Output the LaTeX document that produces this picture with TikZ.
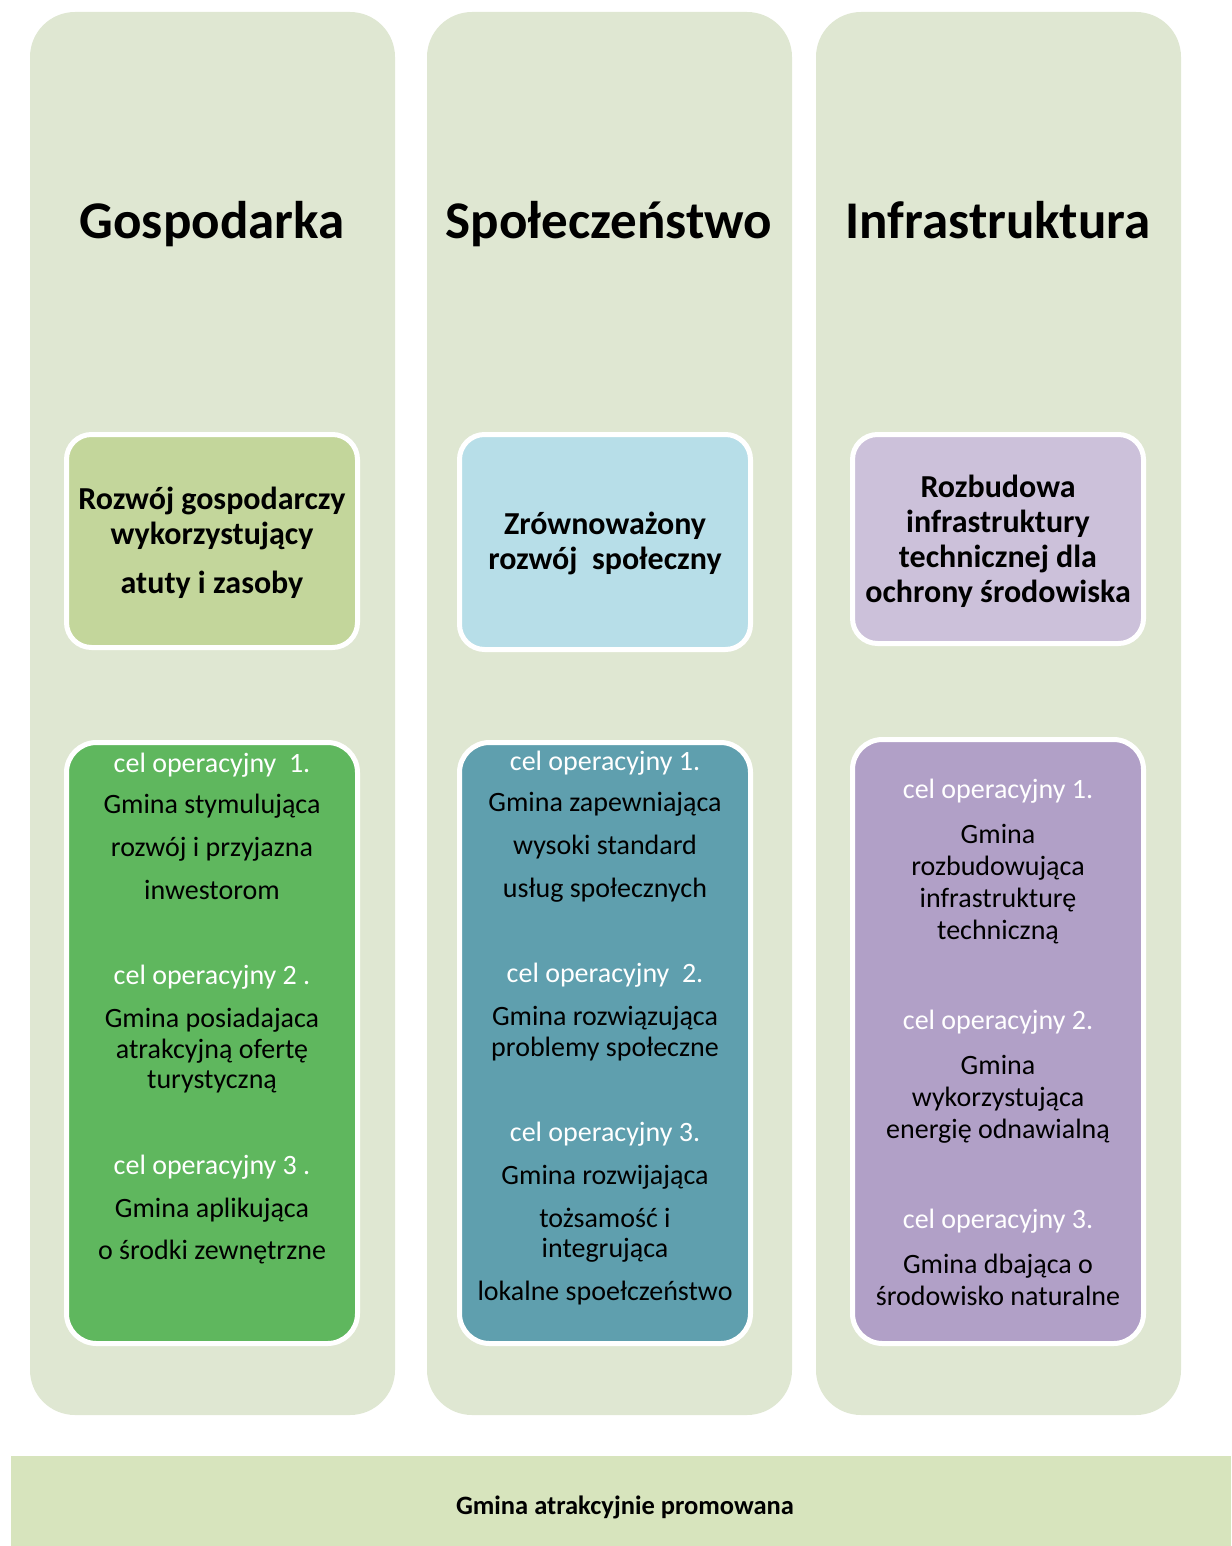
\documentclass[tikz,border=0pt]{standalone}
\usepackage{fontspec}
\setmainfont{Carlito}
\definecolor{colbg}{HTML}{DFE7D2}
\definecolor{gtop}{HTML}{C3D69B}
\definecolor{gbot}{HTML}{5FB75E}
\definecolor{btop}{HTML}{B7DEE8}
\definecolor{bbot}{HTML}{5F9FAE}
\definecolor{ptop}{HTML}{CCC1DA}
\definecolor{pbot}{HTML}{B1A0C7}
\definecolor{banner}{HTML}{D7E4BD}
\begin{document}
\begin{tikzpicture}[x=1pt,y=-1pt,
  colbox/.style={fill=colbg, rounded corners=45pt, minimum width=365pt, minimum height=1403pt, inner sep=0pt},
  box/.style={draw=white, line width=5pt, rounded corners=25pt, minimum width=291pt, inner sep=0pt},
  ln/.style={text height=0.7em, text depth=0.25em, inner sep=0pt, anchor=center},
  ttl/.style={ln, yshift=-14pt, font=\fontsize{53}{60}\selectfont\bfseries},
  hd/.style={ln, yshift=-9pt, font=\fontsize{32}{38}\selectfont\bfseries},
  cel/.style={ln, yshift=-8pt, text=white, font=\fontsize{28}{33}\selectfont},
  txt/.style={ln, yshift=-8pt, font=\fontsize{28}{33}\selectfont},
]
\useasboundingbox (0,0) rectangle (1231,1546);
% columns
\node[colbox] (c1) at (212.5,713.5) {};
\node[colbox] (c2) at (609.5,713.5) {};
\node[colbox] (c3) at (998.5,713.5) {};
% titles
\node[ttl] (t1) at (212,222) {Gospodarka};
\node[ttl] (t2) at (609,222) {Społeczeństwo};
\node[ttl] (t3) at (998,222) {Infrastruktura};
% top boxes
\node[box, fill=gtop, minimum height=213pt] (h1) at (212,541) {};
\node[box, fill=btop, minimum height=215pt] (h2) at (605,542) {};
\node[box, fill=ptop, minimum height=209pt] (h3) at (998,539) {};
\node[hd] (h1a) at (212,498) {Rozwój gospodarczy};
\node[hd] (h1b) at (212,533) {wykorzystujący};
\node[hd] (h1c) at (212,582) {atuty i zasoby};
\node[hd] (h2a) at (605,523) {Zrównoważony};
\node[hd] (h2b) at (605,558) {rozwój\ \ społeczny};
\node[hd] (h3a) at (998,486) {Rozbudowa};
\node[hd] (h3b) at (998,521) {infrastruktury};
\node[hd] (h3c) at (998,556) {technicznej dla};
\node[hd] (h3d) at (998,591) {ochrony środowiska};
% lower boxes
\node[box, fill=gbot, rounded corners=30pt, minimum height=601pt] (l1) at (212,1043) {};
\node[box, fill=bbot, rounded corners=30pt, minimum height=601pt] (l2) at (605,1043) {};
\node[box, fill=pbot, rounded corners=30pt, minimum height=604pt] (l3) at (998,1041.5) {};
% column 1 text
\node[cel] (a1) at (212,762) {cel operacyjny\ \ 1.};
\node[txt] (a2) at (212,803) {Gmina stymulująca};
\node[txt] (a3) at (212,846) {rozwój i przyjazna};
\node[txt] (a4) at (212,889) {inwestorom};
\node[cel] (a5) at (212,974) {cel operacyjny 2 .};
\node[txt] (a6) at (212,1017) {Gmina posiadajaca};
\node[txt] (a7) at (212,1048) {atrakcyjną ofertę};
\node[txt] (a8) at (212,1078) {turystyczną};
\node[cel] (a9) at (212,1164) {cel operacyjny 3 .};
\node[txt] (a10) at (212,1207) {Gmina aplikująca};
\node[txt] (a11) at (212,1249) {o środki zewnętrzne};
% column 2 text
\node[cel] (b1) at (605,760) {cel operacyjny 1.};
\node[txt] (b2) at (605,801) {Gmina zapewniająca};
\node[txt] (b3) at (605,844) {wysoki standard};
\node[txt] (b4) at (605,887) {usług społecznych};
\node[cel] (b5) at (605,972) {cel operacyjny\ \ 2.};
\node[txt] (b6) at (605,1015) {Gmina rozwiązująca};
\node[txt] (b7) at (605,1046) {problemy społeczne};
\node[cel] (b8) at (605,1131) {cel operacyjny 3.};
\node[txt] (b9) at (605,1174) {Gmina rozwijająca};
\node[txt] (b10) at (605,1217) {tożsamość i};
\node[txt] (b11) at (605,1247) {integrująca};
\node[txt] (b12) at (605,1290) {lokalne spoełczeństwo};
% column 3 text
\node[cel] (d1) at (998,788) {cel operacyjny 1.};
\node[txt] (d2) at (998,833) {Gmina};
\node[txt] (d3) at (998,865) {rozbudowująca};
\node[txt] (d4) at (998,897) {infrastrukturę};
\node[txt] (d5) at (998,929) {techniczną};
\node[cel] (d6) at (998,1019) {cel operacyjny 2.};
\node[txt] (d7) at (998,1064) {Gmina};
\node[txt] (d8) at (998,1096) {wykorzystująca};
\node[txt] (d9) at (998,1128) {energię odnawialną};
\node[cel] (d10) at (998,1218) {cel operacyjny 3.};
\node[txt] (d11) at (998,1263) {Gmina dbająca o};
\node[txt] (d12) at (998,1295) {środowisko naturalne};
% banner
\node[fill=banner, minimum width=1220pt, minimum height=90pt, inner sep=0pt] (ban) at (621,1501) {};
\node[ln, yshift=-7pt, font=\fontsize{26.5}{31}\selectfont\bfseries] (bant) at (625,1505) {Gmina atrakcyjnie promowana};
\end{tikzpicture}
\end{document}
